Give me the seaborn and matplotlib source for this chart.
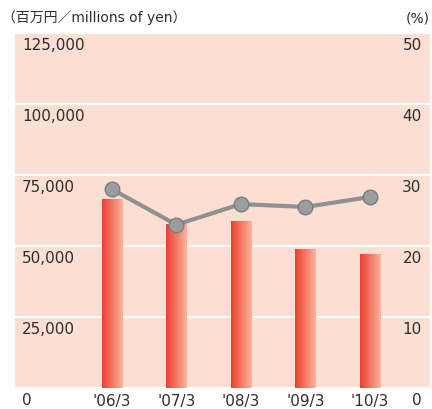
import numpy as np
import seaborn as sns
import matplotlib.pyplot as plt
from matplotlib.colors import LinearSegmentedColormap

years = ["'06/3", "'07/3", "'08/3", "'09/3", "'10/3"]
sales = [66500, 57700, 58800, 49000, 47200]
ratio = [28.0, 23.0, 25.9, 25.5, 26.9]
left_ticks = [0, 25000, 50000, 75000, 100000, 125000]
right_ticks = [0, 10, 20, 30, 40, 50]

sns.set_style('white')
plt.rcParams['font.family'] = ['DejaVu Sans', 'Noto Sans CJK JP']

bg = '#fcded3'
txt = '#2e2e2e'

fig = plt.figure(figsize=(4.32, 4.09), dpi=100)
ax = fig.add_axes([15 / 432, 21 / 409, 415 / 432, 355 / 409])
ax.set_facecolor(bg)

sns.barplot(x=years, y=sales, ax=ax, width=0.31, color='#ef4033')

# gradient fill for the bars
cmap = LinearSegmentedColormap.from_list('bar', ['#ee3f30', '#f9b39c'])
grad = np.linspace(0, 1, 64).reshape(1, -1)
for p in ax.patches:
    x0, w, h = p.get_x(), p.get_width(), p.get_height()
    im = ax.imshow(grad, extent=[x0, x0 + w, 0, h], aspect='auto', cmap=cmap,
                   zorder=3)
    im.set_clip_path(p)
    p.set_facecolor('none')
    p.set_edgecolor('none')

ax.set_xlim(-1.5, 4.93)
ax.set_ylim(0, 125000)
ax.set_yticks(left_ticks)
ax.set_yticklabels([])
ax.yaxis.grid(True, color='white', linewidth=1.6)
ax.xaxis.grid(False)
ax.set_axisbelow(True)
ax.tick_params(axis='x', length=0, pad=4, labelsize=11, labelcolor=txt)
ax.tick_params(axis='y', length=0)
ax.set_xlabel('')
ax.set_ylabel('')
for s in ax.spines.values():
    s.set_visible(False)

for t in left_ticks:
    ax.annotate(f'{t:,}', xy=(0, t), xycoords=('axes fraction', 'data'),
                xytext=(5, -3.5), textcoords='offset points',
                ha='left', va='top', fontsize=11, color=txt)

ax2 = ax.twinx()
sns.pointplot(x=years, y=ratio, ax=ax2, color='#8e9092', linewidth=3,
              markersize=10.5, markerfacecolor='#9a9c9e',
              markeredgecolor='#7a7d80', markeredgewidth=1)
ax2.set_xlim(-1.5, 4.93)
ax2.set_ylim(0, 50)
ax2.set_yticks(right_ticks)
ax2.set_yticklabels([])
ax2.tick_params(axis='y', length=0)
ax2.set_ylabel('')
ax2.grid(False)
for s in ax2.spines.values():
    s.set_visible(False)

for t in right_ticks:
    ax2.annotate(f'{t}', xy=(1, t), xycoords=('axes fraction', 'data'),
                 xytext=(-6, -3.5), textcoords='offset points',
                 ha='right', va='top', fontsize=11, color=txt)

fig.text(2 / 432, 1 - 18 / 409, '（百万円／millions of yen）', ha='left', va='center',
         fontsize=10, color=txt)
fig.text(430 / 432, 1 - 18 / 409, '(%)', ha='right', va='center',
         fontsize=10, color=txt)

fig.savefig('out.png', dpi=100)
